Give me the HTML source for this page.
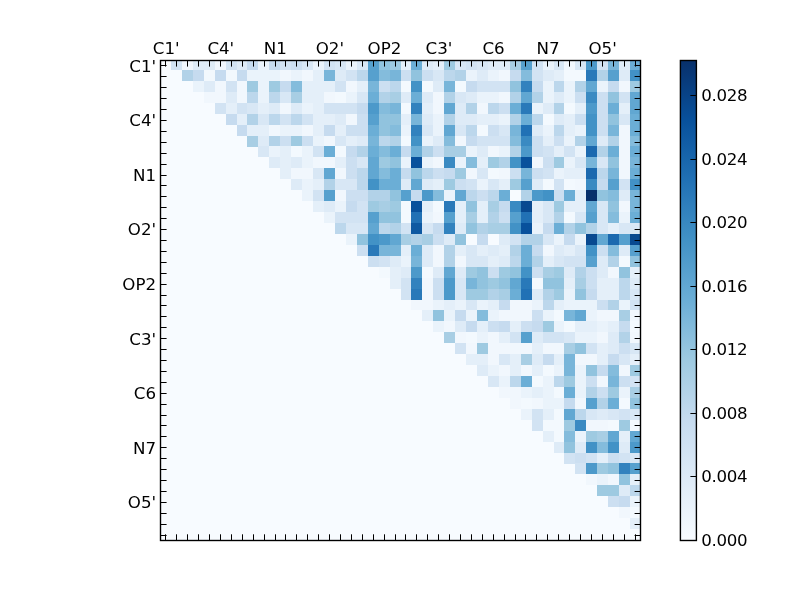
<!DOCTYPE html>
<html lang="en"><head><meta charset="utf-8"><title>Contact map</title>
<style>html,body{margin:0;padding:0;background:#fff;}body{width:800px;height:600px;overflow:hidden;}svg{display:block;}text{font-family:"DejaVu Sans","Liberation Sans",sans-serif;font-size:16.67px;fill:#000;}</style>
</head><body>
<svg width="800" height="600" viewBox="0 0 800 600">
<rect x="0" y="0" width="800" height="600" fill="#ffffff"/>
<defs><clipPath id="ax"><rect x="160" y="60" width="480" height="480"/></clipPath>
<linearGradient id="cb" x1="0" y1="1" x2="0" y2="0">
<stop offset="0" stop-color="#f7fbff"/>
<stop offset="0.125" stop-color="#deebf7"/>
<stop offset="0.25" stop-color="#c6dbef"/>
<stop offset="0.375" stop-color="#9ecae1"/>
<stop offset="0.5" stop-color="#6baed6"/>
<stop offset="0.625" stop-color="#4292c6"/>
<stop offset="0.75" stop-color="#2171b5"/>
<stop offset="0.875" stop-color="#08519c"/>
<stop offset="1" stop-color="#08306b"/>
</linearGradient></defs>
<g clip-path="url(#ax)" shape-rendering="crispEdges">
<rect x="160" y="58" width="480" height="484" fill="#f7fbff"/>
<rect x="170.93" y="59.00" width="10.98" height="10.98" fill="#d2e3f3"/>
<rect x="181.86" y="59.00" width="10.98" height="10.98" fill="#f0f6fd"/>
<rect x="192.80" y="59.00" width="21.91" height="10.98" fill="#deebf7"/>
<rect x="214.66" y="59.00" width="10.98" height="10.98" fill="#f0f6fd"/>
<rect x="225.59" y="59.00" width="10.98" height="10.98" fill="#d2e3f3"/>
<rect x="236.52" y="59.00" width="10.98" height="10.98" fill="#deebf7"/>
<rect x="247.45" y="59.00" width="10.98" height="10.98" fill="#c6dbef"/>
<rect x="258.39" y="59.00" width="10.98" height="10.98" fill="#eaf3fb"/>
<rect x="269.32" y="59.00" width="10.98" height="10.98" fill="#c6dbef"/>
<rect x="280.25" y="59.00" width="10.98" height="10.98" fill="#d2e3f3"/>
<rect x="291.18" y="59.00" width="10.98" height="10.98" fill="#ccdff1"/>
<rect x="302.11" y="59.00" width="10.98" height="10.98" fill="#d8e7f5"/>
<rect x="313.05" y="59.00" width="10.98" height="10.98" fill="#eaf3fb"/>
<rect x="323.98" y="59.00" width="10.98" height="10.98" fill="#d2e3f3"/>
<rect x="334.91" y="59.00" width="10.98" height="10.98" fill="#d8e7f5"/>
<rect x="345.84" y="59.00" width="10.98" height="10.98" fill="#eaf3fb"/>
<rect x="356.77" y="59.00" width="10.98" height="10.98" fill="#d8e7f5"/>
<rect x="367.70" y="59.00" width="10.98" height="10.98" fill="#56a0ce"/>
<rect x="378.64" y="59.00" width="10.98" height="10.98" fill="#91c3de"/>
<rect x="389.57" y="59.00" width="10.98" height="10.98" fill="#9ecae1"/>
<rect x="400.50" y="59.00" width="10.98" height="10.98" fill="#e4eff9"/>
<rect x="411.43" y="59.00" width="10.98" height="10.98" fill="#6baed6"/>
<rect x="422.36" y="59.00" width="10.98" height="10.98" fill="#deebf7"/>
<rect x="433.30" y="59.00" width="10.98" height="10.98" fill="#e4eff9"/>
<rect x="444.23" y="59.00" width="10.98" height="10.98" fill="#9ecae1"/>
<rect x="455.16" y="59.00" width="10.98" height="10.98" fill="#d8e7f5"/>
<rect x="466.09" y="59.00" width="10.98" height="10.98" fill="#d2e3f3"/>
<rect x="477.02" y="59.00" width="10.98" height="10.98" fill="#d8e7f5"/>
<rect x="487.95" y="59.00" width="21.91" height="10.98" fill="#deebf7"/>
<rect x="509.82" y="59.00" width="10.98" height="10.98" fill="#a8cee4"/>
<rect x="520.75" y="59.00" width="10.98" height="10.98" fill="#56a0ce"/>
<rect x="531.68" y="59.00" width="10.98" height="10.98" fill="#d2e3f3"/>
<rect x="542.61" y="59.00" width="10.98" height="10.98" fill="#eaf3fb"/>
<rect x="553.55" y="59.00" width="10.98" height="10.98" fill="#d8e7f5"/>
<rect x="564.48" y="59.00" width="10.98" height="10.98" fill="#f1f7fd"/>
<rect x="575.41" y="59.00" width="10.98" height="10.98" fill="#d8e7f5"/>
<rect x="586.34" y="59.00" width="10.98" height="10.98" fill="#4c99ca"/>
<rect x="597.27" y="59.00" width="10.98" height="10.98" fill="#d2e3f3"/>
<rect x="608.20" y="59.00" width="10.98" height="10.98" fill="#78b5d9"/>
<rect x="619.14" y="59.00" width="10.98" height="10.98" fill="#deebf7"/>
<rect x="630.07" y="59.00" width="10.98" height="10.98" fill="#6baed6"/>
<rect x="181.86" y="69.93" width="10.98" height="10.98" fill="#b2d2e8"/>
<rect x="192.80" y="69.93" width="10.98" height="10.98" fill="#c6dbef"/>
<rect x="203.73" y="69.93" width="10.98" height="10.98" fill="#f2f8fd"/>
<rect x="214.66" y="69.93" width="10.98" height="10.98" fill="#c6dbef"/>
<rect x="225.59" y="69.93" width="10.98" height="10.98" fill="#f2f8fd"/>
<rect x="236.52" y="69.93" width="10.98" height="10.98" fill="#c6dbef"/>
<rect x="247.45" y="69.93" width="32.85" height="10.98" fill="#eaf3fb"/>
<rect x="280.25" y="69.93" width="10.98" height="10.98" fill="#f1f7fd"/>
<rect x="291.18" y="69.93" width="10.98" height="10.98" fill="#eaf3fb"/>
<rect x="302.11" y="69.93" width="10.98" height="10.98" fill="#f1f7fd"/>
<rect x="313.05" y="69.93" width="10.98" height="10.98" fill="#e4eff9"/>
<rect x="323.98" y="69.93" width="10.98" height="10.98" fill="#78b5d9"/>
<rect x="334.91" y="69.93" width="10.98" height="10.98" fill="#deebf7"/>
<rect x="345.84" y="69.93" width="10.98" height="10.98" fill="#d2e3f3"/>
<rect x="356.77" y="69.93" width="10.98" height="10.98" fill="#bcd7ec"/>
<rect x="367.70" y="69.93" width="10.98" height="10.98" fill="#56a0ce"/>
<rect x="378.64" y="69.93" width="10.98" height="10.98" fill="#84bcdc"/>
<rect x="389.57" y="69.93" width="10.98" height="10.98" fill="#78b5d9"/>
<rect x="400.50" y="69.93" width="10.98" height="10.98" fill="#ccdff1"/>
<rect x="411.43" y="69.93" width="10.98" height="10.98" fill="#91c3de"/>
<rect x="422.36" y="69.93" width="10.98" height="10.98" fill="#ccdff1"/>
<rect x="433.30" y="69.93" width="10.98" height="10.98" fill="#d8e7f5"/>
<rect x="444.23" y="69.93" width="10.98" height="10.98" fill="#bcd7ec"/>
<rect x="455.16" y="69.93" width="10.98" height="10.98" fill="#b2d2e8"/>
<rect x="466.09" y="69.93" width="10.98" height="10.98" fill="#eaf3fb"/>
<rect x="477.02" y="69.93" width="10.98" height="10.98" fill="#deebf7"/>
<rect x="487.95" y="69.93" width="10.98" height="10.98" fill="#eaf3fb"/>
<rect x="498.89" y="69.93" width="10.98" height="10.98" fill="#f1f7fd"/>
<rect x="509.82" y="69.93" width="10.98" height="10.98" fill="#c6dbef"/>
<rect x="520.75" y="69.93" width="10.98" height="10.98" fill="#84bcdc"/>
<rect x="531.68" y="69.93" width="10.98" height="10.98" fill="#d2e3f3"/>
<rect x="542.61" y="69.93" width="10.98" height="10.98" fill="#deebf7"/>
<rect x="553.55" y="69.93" width="10.98" height="10.98" fill="#e4eff9"/>
<rect x="564.48" y="69.93" width="21.91" height="10.98" fill="#f3f9fe"/>
<rect x="586.34" y="69.93" width="10.98" height="10.98" fill="#2979b9"/>
<rect x="597.27" y="69.93" width="10.98" height="10.98" fill="#b2d2e8"/>
<rect x="608.20" y="69.93" width="10.98" height="10.98" fill="#56a0ce"/>
<rect x="619.14" y="69.93" width="10.98" height="10.98" fill="#deebf7"/>
<rect x="630.07" y="69.93" width="10.98" height="10.98" fill="#4292c6"/>
<rect x="192.80" y="80.86" width="10.98" height="10.98" fill="#eaf3fb"/>
<rect x="203.73" y="80.86" width="10.98" height="10.98" fill="#deebf7"/>
<rect x="214.66" y="80.86" width="10.98" height="10.98" fill="#f1f7fd"/>
<rect x="225.59" y="80.86" width="10.98" height="10.98" fill="#d2e3f3"/>
<rect x="236.52" y="80.86" width="10.98" height="10.98" fill="#f1f7fd"/>
<rect x="247.45" y="80.86" width="10.98" height="10.98" fill="#9ecae1"/>
<rect x="258.39" y="80.86" width="10.98" height="10.98" fill="#eaf3fb"/>
<rect x="269.32" y="80.86" width="10.98" height="10.98" fill="#9ecae1"/>
<rect x="280.25" y="80.86" width="10.98" height="10.98" fill="#c6dbef"/>
<rect x="291.18" y="80.86" width="10.98" height="10.98" fill="#84bcdc"/>
<rect x="302.11" y="80.86" width="32.85" height="10.98" fill="#e4eff9"/>
<rect x="334.91" y="80.86" width="10.98" height="10.98" fill="#d2e3f3"/>
<rect x="345.84" y="80.86" width="10.98" height="10.98" fill="#f1f7fd"/>
<rect x="356.77" y="80.86" width="10.98" height="10.98" fill="#e4eff9"/>
<rect x="367.70" y="80.86" width="10.98" height="10.98" fill="#78b5d9"/>
<rect x="378.64" y="80.86" width="10.98" height="10.98" fill="#ccdff1"/>
<rect x="389.57" y="80.86" width="10.98" height="10.98" fill="#bcd7ec"/>
<rect x="400.50" y="80.86" width="10.98" height="10.98" fill="#f3f9fe"/>
<rect x="411.43" y="80.86" width="10.98" height="10.98" fill="#4292c6"/>
<rect x="422.36" y="80.86" width="10.98" height="10.98" fill="#f3f9fe"/>
<rect x="433.30" y="80.86" width="10.98" height="10.98" fill="#deebf7"/>
<rect x="444.23" y="80.86" width="10.98" height="10.98" fill="#78b5d9"/>
<rect x="455.16" y="80.86" width="10.98" height="10.98" fill="#f3f9fe"/>
<rect x="466.09" y="80.86" width="10.98" height="10.98" fill="#c6dbef"/>
<rect x="477.02" y="80.86" width="32.85" height="10.98" fill="#d2e3f3"/>
<rect x="509.82" y="80.86" width="10.98" height="10.98" fill="#91c3de"/>
<rect x="520.75" y="80.86" width="10.98" height="10.98" fill="#3282be"/>
<rect x="531.68" y="80.86" width="10.98" height="10.98" fill="#c6dbef"/>
<rect x="542.61" y="80.86" width="10.98" height="10.98" fill="#eaf3fb"/>
<rect x="553.55" y="80.86" width="10.98" height="10.98" fill="#bcd7ec"/>
<rect x="564.48" y="80.86" width="10.98" height="10.98" fill="#eaf3fb"/>
<rect x="575.41" y="80.86" width="10.98" height="10.98" fill="#b2d2e8"/>
<rect x="586.34" y="80.86" width="10.98" height="10.98" fill="#61a7d2"/>
<rect x="597.27" y="80.86" width="10.98" height="10.98" fill="#eaf3fb"/>
<rect x="608.20" y="80.86" width="10.98" height="10.98" fill="#c6dbef"/>
<rect x="619.14" y="80.86" width="10.98" height="10.98" fill="#f1f7fd"/>
<rect x="630.07" y="80.86" width="10.98" height="10.98" fill="#9ecae1"/>
<rect x="203.73" y="91.80" width="21.91" height="10.98" fill="#f1f7fd"/>
<rect x="225.59" y="91.80" width="10.98" height="10.98" fill="#deebf7"/>
<rect x="236.52" y="91.80" width="10.98" height="10.98" fill="#f1f7fd"/>
<rect x="247.45" y="91.80" width="10.98" height="10.98" fill="#bcd7ec"/>
<rect x="258.39" y="91.80" width="10.98" height="10.98" fill="#eaf3fb"/>
<rect x="269.32" y="91.80" width="10.98" height="10.98" fill="#bcd7ec"/>
<rect x="280.25" y="91.80" width="10.98" height="10.98" fill="#d8e7f5"/>
<rect x="291.18" y="91.80" width="10.98" height="10.98" fill="#a8cee4"/>
<rect x="302.11" y="91.80" width="21.91" height="10.98" fill="#e4eff9"/>
<rect x="323.98" y="91.80" width="10.98" height="10.98" fill="#f1f7fd"/>
<rect x="334.91" y="91.80" width="10.98" height="10.98" fill="#f3f9fe"/>
<rect x="345.84" y="91.80" width="10.98" height="10.98" fill="#eaf3fb"/>
<rect x="356.77" y="91.80" width="10.98" height="10.98" fill="#d8e7f5"/>
<rect x="367.70" y="91.80" width="10.98" height="10.98" fill="#6baed6"/>
<rect x="378.64" y="91.80" width="10.98" height="10.98" fill="#b2d2e8"/>
<rect x="389.57" y="91.80" width="10.98" height="10.98" fill="#a8cee4"/>
<rect x="400.50" y="91.80" width="10.98" height="10.98" fill="#deebf7"/>
<rect x="411.43" y="91.80" width="10.98" height="10.98" fill="#6baed6"/>
<rect x="422.36" y="91.80" width="10.98" height="10.98" fill="#deebf7"/>
<rect x="433.30" y="91.80" width="10.98" height="10.98" fill="#f1f7fd"/>
<rect x="444.23" y="91.80" width="10.98" height="10.98" fill="#b2d2e8"/>
<rect x="455.16" y="91.80" width="10.98" height="10.98" fill="#d8e7f5"/>
<rect x="466.09" y="91.80" width="10.98" height="10.98" fill="#deebf7"/>
<rect x="477.02" y="91.80" width="21.91" height="10.98" fill="#eaf3fb"/>
<rect x="498.89" y="91.80" width="10.98" height="10.98" fill="#f1f7fd"/>
<rect x="509.82" y="91.80" width="10.98" height="10.98" fill="#b2d2e8"/>
<rect x="520.75" y="91.80" width="10.98" height="10.98" fill="#61a7d2"/>
<rect x="531.68" y="91.80" width="10.98" height="10.98" fill="#b2d2e8"/>
<rect x="542.61" y="91.80" width="10.98" height="10.98" fill="#eaf3fb"/>
<rect x="553.55" y="91.80" width="10.98" height="10.98" fill="#deebf7"/>
<rect x="564.48" y="91.80" width="10.98" height="10.98" fill="#eaf3fb"/>
<rect x="575.41" y="91.80" width="10.98" height="10.98" fill="#ccdff1"/>
<rect x="586.34" y="91.80" width="10.98" height="10.98" fill="#3a8ac2"/>
<rect x="597.27" y="91.80" width="10.98" height="10.98" fill="#ccdff1"/>
<rect x="608.20" y="91.80" width="10.98" height="10.98" fill="#91c3de"/>
<rect x="619.14" y="91.80" width="10.98" height="10.98" fill="#d2e3f3"/>
<rect x="630.07" y="91.80" width="10.98" height="10.98" fill="#61a7d2"/>
<rect x="214.66" y="102.73" width="10.98" height="10.98" fill="#d2e3f3"/>
<rect x="225.59" y="102.73" width="10.98" height="10.98" fill="#e4eff9"/>
<rect x="236.52" y="102.73" width="10.98" height="10.98" fill="#d2e3f3"/>
<rect x="247.45" y="102.73" width="10.98" height="10.98" fill="#d8e7f5"/>
<rect x="258.39" y="102.73" width="10.98" height="10.98" fill="#e4eff9"/>
<rect x="269.32" y="102.73" width="10.98" height="10.98" fill="#deebf7"/>
<rect x="280.25" y="102.73" width="10.98" height="10.98" fill="#f1f7fd"/>
<rect x="291.18" y="102.73" width="10.98" height="10.98" fill="#deebf7"/>
<rect x="302.11" y="102.73" width="10.98" height="10.98" fill="#eaf3fb"/>
<rect x="313.05" y="102.73" width="10.98" height="10.98" fill="#e4eff9"/>
<rect x="323.98" y="102.73" width="32.85" height="10.98" fill="#d2e3f3"/>
<rect x="356.77" y="102.73" width="10.98" height="10.98" fill="#c6dbef"/>
<rect x="367.70" y="102.73" width="10.98" height="10.98" fill="#4c99ca"/>
<rect x="378.64" y="102.73" width="10.98" height="10.98" fill="#84bcdc"/>
<rect x="389.57" y="102.73" width="10.98" height="10.98" fill="#78b5d9"/>
<rect x="400.50" y="102.73" width="10.98" height="10.98" fill="#f3f9fe"/>
<rect x="411.43" y="102.73" width="10.98" height="10.98" fill="#3282be"/>
<rect x="422.36" y="102.73" width="10.98" height="10.98" fill="#e4eff9"/>
<rect x="433.30" y="102.73" width="10.98" height="10.98" fill="#f1f7fd"/>
<rect x="444.23" y="102.73" width="10.98" height="10.98" fill="#61a7d2"/>
<rect x="455.16" y="102.73" width="10.98" height="10.98" fill="#deebf7"/>
<rect x="466.09" y="102.73" width="10.98" height="10.98" fill="#b2d2e8"/>
<rect x="477.02" y="102.73" width="10.98" height="10.98" fill="#f1f7fd"/>
<rect x="487.95" y="102.73" width="10.98" height="10.98" fill="#bcd7ec"/>
<rect x="498.89" y="102.73" width="10.98" height="10.98" fill="#ccdff1"/>
<rect x="509.82" y="102.73" width="10.98" height="10.98" fill="#6baed6"/>
<rect x="520.75" y="102.73" width="10.98" height="10.98" fill="#2979b9"/>
<rect x="531.68" y="102.73" width="10.98" height="10.98" fill="#eaf3fb"/>
<rect x="542.61" y="102.73" width="10.98" height="10.98" fill="#deebf7"/>
<rect x="553.55" y="102.73" width="10.98" height="10.98" fill="#b2d2e8"/>
<rect x="564.48" y="102.73" width="10.98" height="10.98" fill="#f3f9fe"/>
<rect x="575.41" y="102.73" width="10.98" height="10.98" fill="#e4eff9"/>
<rect x="586.34" y="102.73" width="10.98" height="10.98" fill="#4c99ca"/>
<rect x="597.27" y="102.73" width="10.98" height="10.98" fill="#ccdff1"/>
<rect x="608.20" y="102.73" width="10.98" height="10.98" fill="#6baed6"/>
<rect x="619.14" y="102.73" width="10.98" height="10.98" fill="#e4eff9"/>
<rect x="630.07" y="102.73" width="10.98" height="10.98" fill="#61a7d2"/>
<rect x="225.59" y="113.66" width="10.98" height="10.98" fill="#c6dbef"/>
<rect x="236.52" y="113.66" width="10.98" height="10.98" fill="#e4eff9"/>
<rect x="247.45" y="113.66" width="10.98" height="10.98" fill="#b2d2e8"/>
<rect x="258.39" y="113.66" width="10.98" height="10.98" fill="#d8e7f5"/>
<rect x="269.32" y="113.66" width="10.98" height="10.98" fill="#bcd7ec"/>
<rect x="280.25" y="113.66" width="10.98" height="10.98" fill="#d2e3f3"/>
<rect x="291.18" y="113.66" width="10.98" height="10.98" fill="#bcd7ec"/>
<rect x="302.11" y="113.66" width="10.98" height="10.98" fill="#d2e3f3"/>
<rect x="313.05" y="113.66" width="21.91" height="10.98" fill="#e4eff9"/>
<rect x="334.91" y="113.66" width="10.98" height="10.98" fill="#deebf7"/>
<rect x="345.84" y="113.66" width="10.98" height="10.98" fill="#f1f7fd"/>
<rect x="356.77" y="113.66" width="10.98" height="10.98" fill="#ccdff1"/>
<rect x="367.70" y="113.66" width="10.98" height="10.98" fill="#56a0ce"/>
<rect x="378.64" y="113.66" width="21.91" height="10.98" fill="#91c3de"/>
<rect x="400.50" y="113.66" width="10.98" height="10.98" fill="#e4eff9"/>
<rect x="411.43" y="113.66" width="10.98" height="10.98" fill="#78b5d9"/>
<rect x="422.36" y="113.66" width="10.98" height="10.98" fill="#deebf7"/>
<rect x="433.30" y="113.66" width="10.98" height="10.98" fill="#eaf3fb"/>
<rect x="444.23" y="113.66" width="10.98" height="10.98" fill="#b2d2e8"/>
<rect x="455.16" y="113.66" width="21.91" height="10.98" fill="#deebf7"/>
<rect x="477.02" y="113.66" width="21.91" height="10.98" fill="#e4eff9"/>
<rect x="498.89" y="113.66" width="10.98" height="10.98" fill="#eaf3fb"/>
<rect x="509.82" y="113.66" width="10.98" height="10.98" fill="#b2d2e8"/>
<rect x="520.75" y="113.66" width="10.98" height="10.98" fill="#6baed6"/>
<rect x="531.68" y="113.66" width="10.98" height="10.98" fill="#bcd7ec"/>
<rect x="542.61" y="113.66" width="10.98" height="10.98" fill="#f3f9fe"/>
<rect x="553.55" y="113.66" width="10.98" height="10.98" fill="#deebf7"/>
<rect x="564.48" y="113.66" width="10.98" height="10.98" fill="#e4eff9"/>
<rect x="575.41" y="113.66" width="10.98" height="10.98" fill="#ccdff1"/>
<rect x="586.34" y="113.66" width="10.98" height="10.98" fill="#4292c6"/>
<rect x="597.27" y="113.66" width="10.98" height="10.98" fill="#ccdff1"/>
<rect x="608.20" y="113.66" width="10.98" height="10.98" fill="#91c3de"/>
<rect x="619.14" y="113.66" width="10.98" height="10.98" fill="#d8e7f5"/>
<rect x="630.07" y="113.66" width="10.98" height="10.98" fill="#6baed6"/>
<rect x="236.52" y="124.59" width="10.98" height="10.98" fill="#c6dbef"/>
<rect x="247.45" y="124.59" width="21.91" height="10.98" fill="#e4eff9"/>
<rect x="269.32" y="124.59" width="10.98" height="10.98" fill="#f1f7fd"/>
<rect x="280.25" y="124.59" width="21.91" height="10.98" fill="#eaf3fb"/>
<rect x="302.11" y="124.59" width="10.98" height="10.98" fill="#f1f7fd"/>
<rect x="313.05" y="124.59" width="10.98" height="10.98" fill="#e4eff9"/>
<rect x="323.98" y="124.59" width="10.98" height="10.98" fill="#c6dbef"/>
<rect x="334.91" y="124.59" width="10.98" height="10.98" fill="#e4eff9"/>
<rect x="345.84" y="124.59" width="21.91" height="10.98" fill="#ccdff1"/>
<rect x="367.70" y="124.59" width="10.98" height="10.98" fill="#6baed6"/>
<rect x="378.64" y="124.59" width="10.98" height="10.98" fill="#91c3de"/>
<rect x="389.57" y="124.59" width="10.98" height="10.98" fill="#84bcdc"/>
<rect x="400.50" y="124.59" width="10.98" height="10.98" fill="#eaf3fb"/>
<rect x="411.43" y="124.59" width="10.98" height="10.98" fill="#3282be"/>
<rect x="422.36" y="124.59" width="10.98" height="10.98" fill="#d8e7f5"/>
<rect x="433.30" y="124.59" width="10.98" height="10.98" fill="#eaf3fb"/>
<rect x="444.23" y="124.59" width="10.98" height="10.98" fill="#61a7d2"/>
<rect x="455.16" y="124.59" width="10.98" height="10.98" fill="#d8e7f5"/>
<rect x="466.09" y="124.59" width="10.98" height="10.98" fill="#bcd7ec"/>
<rect x="477.02" y="124.59" width="10.98" height="10.98" fill="#f3f9fe"/>
<rect x="487.95" y="124.59" width="10.98" height="10.98" fill="#ccdff1"/>
<rect x="498.89" y="124.59" width="10.98" height="10.98" fill="#d8e7f5"/>
<rect x="509.82" y="124.59" width="10.98" height="10.98" fill="#78b5d9"/>
<rect x="520.75" y="124.59" width="10.98" height="10.98" fill="#2171b5"/>
<rect x="531.68" y="124.59" width="10.98" height="10.98" fill="#deebf7"/>
<rect x="542.61" y="124.59" width="10.98" height="10.98" fill="#eaf3fb"/>
<rect x="553.55" y="124.59" width="10.98" height="10.98" fill="#bcd7ec"/>
<rect x="564.48" y="124.59" width="10.98" height="10.98" fill="#e4eff9"/>
<rect x="575.41" y="124.59" width="10.98" height="10.98" fill="#eaf3fb"/>
<rect x="586.34" y="124.59" width="10.98" height="10.98" fill="#4292c6"/>
<rect x="597.27" y="124.59" width="10.98" height="10.98" fill="#ccdff1"/>
<rect x="608.20" y="124.59" width="10.98" height="10.98" fill="#78b5d9"/>
<rect x="619.14" y="124.59" width="10.98" height="10.98" fill="#f1f7fd"/>
<rect x="630.07" y="124.59" width="10.98" height="10.98" fill="#6baed6"/>
<rect x="247.45" y="135.52" width="10.98" height="10.98" fill="#a8cee4"/>
<rect x="258.39" y="135.52" width="10.98" height="10.98" fill="#deebf7"/>
<rect x="269.32" y="135.52" width="10.98" height="10.98" fill="#b2d2e8"/>
<rect x="280.25" y="135.52" width="10.98" height="10.98" fill="#ccdff1"/>
<rect x="291.18" y="135.52" width="10.98" height="10.98" fill="#9ecae1"/>
<rect x="302.11" y="135.52" width="10.98" height="10.98" fill="#ccdff1"/>
<rect x="313.05" y="135.52" width="10.98" height="10.98" fill="#eaf3fb"/>
<rect x="323.98" y="135.52" width="10.98" height="10.98" fill="#f1f7fd"/>
<rect x="334.91" y="135.52" width="10.98" height="10.98" fill="#d8e7f5"/>
<rect x="345.84" y="135.52" width="10.98" height="10.98" fill="#e4eff9"/>
<rect x="356.77" y="135.52" width="10.98" height="10.98" fill="#deebf7"/>
<rect x="367.70" y="135.52" width="10.98" height="10.98" fill="#78b5d9"/>
<rect x="378.64" y="135.52" width="10.98" height="10.98" fill="#bcd7ec"/>
<rect x="389.57" y="135.52" width="10.98" height="10.98" fill="#b2d2e8"/>
<rect x="400.50" y="135.52" width="10.98" height="10.98" fill="#f3f9fe"/>
<rect x="411.43" y="135.52" width="10.98" height="10.98" fill="#4292c6"/>
<rect x="422.36" y="135.52" width="10.98" height="10.98" fill="#eaf3fb"/>
<rect x="433.30" y="135.52" width="10.98" height="10.98" fill="#deebf7"/>
<rect x="444.23" y="135.52" width="10.98" height="10.98" fill="#84bcdc"/>
<rect x="455.16" y="135.52" width="10.98" height="10.98" fill="#f1f7fd"/>
<rect x="466.09" y="135.52" width="10.98" height="10.98" fill="#c6dbef"/>
<rect x="477.02" y="135.52" width="32.85" height="10.98" fill="#d2e3f3"/>
<rect x="509.82" y="135.52" width="10.98" height="10.98" fill="#84bcdc"/>
<rect x="520.75" y="135.52" width="10.98" height="10.98" fill="#3a8ac2"/>
<rect x="531.68" y="135.52" width="10.98" height="10.98" fill="#ccdff1"/>
<rect x="542.61" y="135.52" width="10.98" height="10.98" fill="#e4eff9"/>
<rect x="553.55" y="135.52" width="10.98" height="10.98" fill="#ccdff1"/>
<rect x="564.48" y="135.52" width="10.98" height="10.98" fill="#eaf3fb"/>
<rect x="575.41" y="135.52" width="10.98" height="10.98" fill="#b2d2e8"/>
<rect x="586.34" y="135.52" width="10.98" height="10.98" fill="#61a7d2"/>
<rect x="597.27" y="135.52" width="10.98" height="10.98" fill="#deebf7"/>
<rect x="608.20" y="135.52" width="10.98" height="10.98" fill="#b2d2e8"/>
<rect x="619.14" y="135.52" width="10.98" height="10.98" fill="#f1f7fd"/>
<rect x="630.07" y="135.52" width="10.98" height="10.98" fill="#84bcdc"/>
<rect x="258.39" y="146.45" width="10.98" height="10.98" fill="#d8e7f5"/>
<rect x="269.32" y="146.45" width="10.98" height="10.98" fill="#eaf3fb"/>
<rect x="280.25" y="146.45" width="10.98" height="10.98" fill="#e4eff9"/>
<rect x="291.18" y="146.45" width="10.98" height="10.98" fill="#f3f9fe"/>
<rect x="302.11" y="146.45" width="10.98" height="10.98" fill="#eaf3fb"/>
<rect x="313.05" y="146.45" width="10.98" height="10.98" fill="#d2e3f3"/>
<rect x="323.98" y="146.45" width="10.98" height="10.98" fill="#6baed6"/>
<rect x="334.91" y="146.45" width="10.98" height="10.98" fill="#f3f9fe"/>
<rect x="345.84" y="146.45" width="10.98" height="10.98" fill="#c6dbef"/>
<rect x="356.77" y="146.45" width="10.98" height="10.98" fill="#b2d2e8"/>
<rect x="367.70" y="146.45" width="10.98" height="10.98" fill="#6baed6"/>
<rect x="378.64" y="146.45" width="10.98" height="10.98" fill="#84bcdc"/>
<rect x="389.57" y="146.45" width="10.98" height="10.98" fill="#6baed6"/>
<rect x="400.50" y="146.45" width="10.98" height="10.98" fill="#c6dbef"/>
<rect x="411.43" y="146.45" width="10.98" height="10.98" fill="#6baed6"/>
<rect x="422.36" y="146.45" width="10.98" height="10.98" fill="#b2d2e8"/>
<rect x="433.30" y="146.45" width="10.98" height="10.98" fill="#ccdff1"/>
<rect x="444.23" y="146.45" width="21.91" height="10.98" fill="#a8cee4"/>
<rect x="466.09" y="146.45" width="10.98" height="10.98" fill="#eaf3fb"/>
<rect x="477.02" y="146.45" width="10.98" height="10.98" fill="#deebf7"/>
<rect x="487.95" y="146.45" width="10.98" height="10.98" fill="#f1f7fd"/>
<rect x="498.89" y="146.45" width="10.98" height="10.98" fill="#eaf3fb"/>
<rect x="509.82" y="146.45" width="10.98" height="10.98" fill="#b2d2e8"/>
<rect x="520.75" y="146.45" width="10.98" height="10.98" fill="#4c99ca"/>
<rect x="531.68" y="146.45" width="10.98" height="10.98" fill="#ccdff1"/>
<rect x="542.61" y="146.45" width="10.98" height="10.98" fill="#d2e3f3"/>
<rect x="553.55" y="146.45" width="10.98" height="10.98" fill="#e4eff9"/>
<rect x="564.48" y="146.45" width="10.98" height="10.98" fill="#d2e3f3"/>
<rect x="575.41" y="146.45" width="10.98" height="10.98" fill="#eaf3fb"/>
<rect x="586.34" y="146.45" width="10.98" height="10.98" fill="#1b69af"/>
<rect x="597.27" y="146.45" width="10.98" height="10.98" fill="#b2d2e8"/>
<rect x="608.20" y="146.45" width="10.98" height="10.98" fill="#6baed6"/>
<rect x="619.14" y="146.45" width="10.98" height="10.98" fill="#f1f7fd"/>
<rect x="630.07" y="146.45" width="10.98" height="10.98" fill="#6baed6"/>
<rect x="269.32" y="157.39" width="10.98" height="10.98" fill="#deebf7"/>
<rect x="280.25" y="157.39" width="10.98" height="10.98" fill="#e4eff9"/>
<rect x="291.18" y="157.39" width="10.98" height="10.98" fill="#deebf7"/>
<rect x="302.11" y="157.39" width="10.98" height="10.98" fill="#eaf3fb"/>
<rect x="313.05" y="157.39" width="21.91" height="10.98" fill="#f1f7fd"/>
<rect x="334.91" y="157.39" width="10.98" height="10.98" fill="#e4eff9"/>
<rect x="345.84" y="157.39" width="10.98" height="10.98" fill="#ccdff1"/>
<rect x="356.77" y="157.39" width="10.98" height="10.98" fill="#d8e7f5"/>
<rect x="367.70" y="157.39" width="10.98" height="10.98" fill="#61a7d2"/>
<rect x="378.64" y="157.39" width="10.98" height="10.98" fill="#9ecae1"/>
<rect x="389.57" y="157.39" width="10.98" height="10.98" fill="#91c3de"/>
<rect x="400.50" y="157.39" width="10.98" height="10.98" fill="#eaf3fb"/>
<rect x="411.43" y="157.39" width="10.98" height="10.98" fill="#08519c"/>
<rect x="422.36" y="157.39" width="10.98" height="10.98" fill="#eaf3fb"/>
<rect x="433.30" y="157.39" width="10.98" height="10.98" fill="#f1f7fd"/>
<rect x="444.23" y="157.39" width="10.98" height="10.98" fill="#3a8ac2"/>
<rect x="455.16" y="157.39" width="10.98" height="10.98" fill="#eaf3fb"/>
<rect x="466.09" y="157.39" width="10.98" height="10.98" fill="#84bcdc"/>
<rect x="477.02" y="157.39" width="10.98" height="10.98" fill="#e4eff9"/>
<rect x="487.95" y="157.39" width="10.98" height="10.98" fill="#9ecae1"/>
<rect x="498.89" y="157.39" width="10.98" height="10.98" fill="#b2d2e8"/>
<rect x="509.82" y="157.39" width="10.98" height="10.98" fill="#4292c6"/>
<rect x="520.75" y="157.39" width="10.98" height="10.98" fill="#08519c"/>
<rect x="531.68" y="157.39" width="10.98" height="10.98" fill="#f1f7fd"/>
<rect x="542.61" y="157.39" width="10.98" height="10.98" fill="#ccdff1"/>
<rect x="553.55" y="157.39" width="10.98" height="10.98" fill="#9ecae1"/>
<rect x="564.48" y="157.39" width="10.98" height="10.98" fill="#eaf3fb"/>
<rect x="575.41" y="157.39" width="10.98" height="10.98" fill="#d8e7f5"/>
<rect x="586.34" y="157.39" width="10.98" height="10.98" fill="#78b5d9"/>
<rect x="597.27" y="157.39" width="10.98" height="10.98" fill="#d8e7f5"/>
<rect x="608.20" y="157.39" width="10.98" height="10.98" fill="#91c3de"/>
<rect x="619.14" y="157.39" width="10.98" height="10.98" fill="#f1f7fd"/>
<rect x="630.07" y="157.39" width="10.98" height="10.98" fill="#78b5d9"/>
<rect x="280.25" y="168.32" width="10.98" height="10.98" fill="#e4eff9"/>
<rect x="291.18" y="168.32" width="21.91" height="10.98" fill="#f1f7fd"/>
<rect x="313.05" y="168.32" width="10.98" height="10.98" fill="#d8e7f5"/>
<rect x="323.98" y="168.32" width="10.98" height="10.98" fill="#61a7d2"/>
<rect x="334.91" y="168.32" width="10.98" height="10.98" fill="#f1f7fd"/>
<rect x="345.84" y="168.32" width="10.98" height="10.98" fill="#ccdff1"/>
<rect x="356.77" y="168.32" width="10.98" height="10.98" fill="#bcd7ec"/>
<rect x="367.70" y="168.32" width="10.98" height="10.98" fill="#61a7d2"/>
<rect x="378.64" y="168.32" width="10.98" height="10.98" fill="#84bcdc"/>
<rect x="389.57" y="168.32" width="10.98" height="10.98" fill="#6baed6"/>
<rect x="400.50" y="168.32" width="10.98" height="10.98" fill="#c6dbef"/>
<rect x="411.43" y="168.32" width="10.98" height="10.98" fill="#91c3de"/>
<rect x="422.36" y="168.32" width="10.98" height="10.98" fill="#bcd7ec"/>
<rect x="433.30" y="168.32" width="10.98" height="10.98" fill="#ccdff1"/>
<rect x="444.23" y="168.32" width="10.98" height="10.98" fill="#c6dbef"/>
<rect x="455.16" y="168.32" width="10.98" height="10.98" fill="#9ecae1"/>
<rect x="466.09" y="168.32" width="10.98" height="10.98" fill="#f1f7fd"/>
<rect x="477.02" y="168.32" width="10.98" height="10.98" fill="#d8e7f5"/>
<rect x="487.95" y="168.32" width="10.98" height="10.98" fill="#f3f9fe"/>
<rect x="498.89" y="168.32" width="10.98" height="10.98" fill="#f1f7fd"/>
<rect x="509.82" y="168.32" width="10.98" height="10.98" fill="#ccdff1"/>
<rect x="520.75" y="168.32" width="10.98" height="10.98" fill="#78b5d9"/>
<rect x="531.68" y="168.32" width="10.98" height="10.98" fill="#ccdff1"/>
<rect x="542.61" y="168.32" width="10.98" height="10.98" fill="#d2e3f3"/>
<rect x="553.55" y="168.32" width="10.98" height="10.98" fill="#eaf3fb"/>
<rect x="564.48" y="168.32" width="21.91" height="10.98" fill="#e4eff9"/>
<rect x="586.34" y="168.32" width="10.98" height="10.98" fill="#1b69af"/>
<rect x="597.27" y="168.32" width="10.98" height="10.98" fill="#bcd7ec"/>
<rect x="608.20" y="168.32" width="10.98" height="10.98" fill="#78b5d9"/>
<rect x="619.14" y="168.32" width="10.98" height="10.98" fill="#f1f7fd"/>
<rect x="630.07" y="168.32" width="10.98" height="10.98" fill="#6baed6"/>
<rect x="291.18" y="179.25" width="10.98" height="10.98" fill="#deebf7"/>
<rect x="302.11" y="179.25" width="10.98" height="10.98" fill="#eaf3fb"/>
<rect x="313.05" y="179.25" width="10.98" height="10.98" fill="#e4eff9"/>
<rect x="323.98" y="179.25" width="10.98" height="10.98" fill="#b2d2e8"/>
<rect x="334.91" y="179.25" width="21.91" height="10.98" fill="#d8e7f5"/>
<rect x="356.77" y="179.25" width="10.98" height="10.98" fill="#bcd7ec"/>
<rect x="367.70" y="179.25" width="10.98" height="10.98" fill="#4292c6"/>
<rect x="378.64" y="179.25" width="21.91" height="10.98" fill="#6baed6"/>
<rect x="400.50" y="179.25" width="10.98" height="10.98" fill="#deebf7"/>
<rect x="411.43" y="179.25" width="10.98" height="10.98" fill="#61a7d2"/>
<rect x="422.36" y="179.25" width="10.98" height="10.98" fill="#deebf7"/>
<rect x="433.30" y="179.25" width="10.98" height="10.98" fill="#e4eff9"/>
<rect x="444.23" y="179.25" width="10.98" height="10.98" fill="#9ecae1"/>
<rect x="455.16" y="179.25" width="10.98" height="10.98" fill="#ccdff1"/>
<rect x="466.09" y="179.25" width="10.98" height="10.98" fill="#d2e3f3"/>
<rect x="477.02" y="179.25" width="10.98" height="10.98" fill="#eaf3fb"/>
<rect x="487.95" y="179.25" width="10.98" height="10.98" fill="#d8e7f5"/>
<rect x="498.89" y="179.25" width="10.98" height="10.98" fill="#e4eff9"/>
<rect x="509.82" y="179.25" width="10.98" height="10.98" fill="#9ecae1"/>
<rect x="520.75" y="179.25" width="10.98" height="10.98" fill="#56a0ce"/>
<rect x="531.68" y="179.25" width="10.98" height="10.98" fill="#deebf7"/>
<rect x="542.61" y="179.25" width="10.98" height="10.98" fill="#f3f9fe"/>
<rect x="553.55" y="179.25" width="10.98" height="10.98" fill="#d2e3f3"/>
<rect x="564.48" y="179.25" width="10.98" height="10.98" fill="#f3f9fe"/>
<rect x="575.41" y="179.25" width="10.98" height="10.98" fill="#f1f7fd"/>
<rect x="586.34" y="179.25" width="10.98" height="10.98" fill="#3a8ac2"/>
<rect x="597.27" y="179.25" width="10.98" height="10.98" fill="#c6dbef"/>
<rect x="608.20" y="179.25" width="10.98" height="10.98" fill="#56a0ce"/>
<rect x="619.14" y="179.25" width="10.98" height="10.98" fill="#d2e3f3"/>
<rect x="630.07" y="179.25" width="10.98" height="10.98" fill="#4292c6"/>
<rect x="302.11" y="190.18" width="10.98" height="10.98" fill="#eaf3fb"/>
<rect x="313.05" y="190.18" width="10.98" height="10.98" fill="#d2e3f3"/>
<rect x="323.98" y="190.18" width="10.98" height="10.98" fill="#56a0ce"/>
<rect x="334.91" y="190.18" width="10.98" height="10.98" fill="#f1f7fd"/>
<rect x="345.84" y="190.18" width="21.91" height="10.98" fill="#ccdff1"/>
<rect x="367.70" y="190.18" width="21.91" height="10.98" fill="#b2d2e8"/>
<rect x="389.57" y="190.18" width="10.98" height="10.98" fill="#91c3de"/>
<rect x="400.50" y="190.18" width="10.98" height="10.98" fill="#56a0ce"/>
<rect x="411.43" y="190.18" width="10.98" height="10.98" fill="#c6dbef"/>
<rect x="422.36" y="190.18" width="10.98" height="10.98" fill="#4c99ca"/>
<rect x="433.30" y="190.18" width="10.98" height="10.98" fill="#84bcdc"/>
<rect x="444.23" y="190.18" width="10.98" height="10.98" fill="#eaf3fb"/>
<rect x="455.16" y="190.18" width="10.98" height="10.98" fill="#61a7d2"/>
<rect x="466.09" y="190.18" width="10.98" height="10.98" fill="#bcd7ec"/>
<rect x="477.02" y="190.18" width="10.98" height="10.98" fill="#ccdff1"/>
<rect x="487.95" y="190.18" width="10.98" height="10.98" fill="#bcd7ec"/>
<rect x="498.89" y="190.18" width="10.98" height="10.98" fill="#6baed6"/>
<rect x="520.75" y="190.18" width="10.98" height="10.98" fill="#b2d2e8"/>
<rect x="531.68" y="190.18" width="10.98" height="10.98" fill="#4c99ca"/>
<rect x="542.61" y="190.18" width="10.98" height="10.98" fill="#4292c6"/>
<rect x="553.55" y="190.18" width="10.98" height="10.98" fill="#ccdff1"/>
<rect x="564.48" y="190.18" width="10.98" height="10.98" fill="#6baed6"/>
<rect x="575.41" y="190.18" width="10.98" height="10.98" fill="#e4eff9"/>
<rect x="586.34" y="190.18" width="10.98" height="10.98" fill="#08306b"/>
<rect x="597.27" y="190.18" width="10.98" height="10.98" fill="#91c3de"/>
<rect x="608.20" y="190.18" width="10.98" height="10.98" fill="#84bcdc"/>
<rect x="619.14" y="190.18" width="10.98" height="10.98" fill="#deebf7"/>
<rect x="630.07" y="190.18" width="10.98" height="10.98" fill="#78b5d9"/>
<rect x="313.05" y="201.11" width="10.98" height="10.98" fill="#e4eff9"/>
<rect x="323.98" y="201.11" width="10.98" height="10.98" fill="#deebf7"/>
<rect x="334.91" y="201.11" width="10.98" height="10.98" fill="#eaf3fb"/>
<rect x="345.84" y="201.11" width="10.98" height="10.98" fill="#c6dbef"/>
<rect x="356.77" y="201.11" width="10.98" height="10.98" fill="#d2e3f3"/>
<rect x="367.70" y="201.11" width="10.98" height="10.98" fill="#9ecae1"/>
<rect x="378.64" y="201.11" width="10.98" height="10.98" fill="#a8cee4"/>
<rect x="389.57" y="201.11" width="10.98" height="10.98" fill="#9ecae1"/>
<rect x="400.50" y="201.11" width="10.98" height="10.98" fill="#f3f9fe"/>
<rect x="411.43" y="201.11" width="10.98" height="10.98" fill="#08519c"/>
<rect x="422.36" y="201.11" width="10.98" height="10.98" fill="#e4eff9"/>
<rect x="433.30" y="201.11" width="10.98" height="10.98" fill="#f3f9fe"/>
<rect x="444.23" y="201.11" width="10.98" height="10.98" fill="#2979b9"/>
<rect x="455.16" y="201.11" width="10.98" height="10.98" fill="#e4eff9"/>
<rect x="466.09" y="201.11" width="10.98" height="10.98" fill="#91c3de"/>
<rect x="477.02" y="201.11" width="10.98" height="10.98" fill="#e4eff9"/>
<rect x="487.95" y="201.11" width="10.98" height="10.98" fill="#a8cee4"/>
<rect x="498.89" y="201.11" width="10.98" height="10.98" fill="#c6dbef"/>
<rect x="509.82" y="201.11" width="10.98" height="10.98" fill="#3a8ac2"/>
<rect x="520.75" y="201.11" width="10.98" height="10.98" fill="#084990"/>
<rect x="531.68" y="201.11" width="10.98" height="10.98" fill="#e4eff9"/>
<rect x="542.61" y="201.11" width="10.98" height="10.98" fill="#d8e7f5"/>
<rect x="553.55" y="201.11" width="10.98" height="10.98" fill="#9ecae1"/>
<rect x="564.48" y="201.11" width="21.91" height="10.98" fill="#e4eff9"/>
<rect x="586.34" y="201.11" width="10.98" height="10.98" fill="#61a7d2"/>
<rect x="597.27" y="201.11" width="10.98" height="10.98" fill="#d8e7f5"/>
<rect x="608.20" y="201.11" width="10.98" height="10.98" fill="#91c3de"/>
<rect x="619.14" y="201.11" width="10.98" height="10.98" fill="#f1f7fd"/>
<rect x="630.07" y="201.11" width="10.98" height="10.98" fill="#78b5d9"/>
<rect x="323.98" y="212.05" width="10.98" height="10.98" fill="#eaf3fb"/>
<rect x="334.91" y="212.05" width="32.85" height="10.98" fill="#d2e3f3"/>
<rect x="367.70" y="212.05" width="10.98" height="10.98" fill="#56a0ce"/>
<rect x="378.64" y="212.05" width="21.91" height="10.98" fill="#91c3de"/>
<rect x="400.50" y="212.05" width="10.98" height="10.98" fill="#f3f9fe"/>
<rect x="411.43" y="212.05" width="10.98" height="10.98" fill="#2171b5"/>
<rect x="422.36" y="212.05" width="10.98" height="10.98" fill="#eaf3fb"/>
<rect x="433.30" y="212.05" width="10.98" height="10.98" fill="#f1f7fd"/>
<rect x="444.23" y="212.05" width="10.98" height="10.98" fill="#56a0ce"/>
<rect x="455.16" y="212.05" width="10.98" height="10.98" fill="#e4eff9"/>
<rect x="466.09" y="212.05" width="10.98" height="10.98" fill="#a8cee4"/>
<rect x="477.02" y="212.05" width="10.98" height="10.98" fill="#e4eff9"/>
<rect x="487.95" y="212.05" width="10.98" height="10.98" fill="#b2d2e8"/>
<rect x="498.89" y="212.05" width="10.98" height="10.98" fill="#ccdff1"/>
<rect x="509.82" y="212.05" width="10.98" height="10.98" fill="#56a0ce"/>
<rect x="520.75" y="212.05" width="10.98" height="10.98" fill="#2171b5"/>
<rect x="531.68" y="212.05" width="10.98" height="10.98" fill="#e4eff9"/>
<rect x="542.61" y="212.05" width="10.98" height="10.98" fill="#d8e7f5"/>
<rect x="553.55" y="212.05" width="10.98" height="10.98" fill="#b2d2e8"/>
<rect x="564.48" y="212.05" width="10.98" height="10.98" fill="#f3f9fe"/>
<rect x="575.41" y="212.05" width="10.98" height="10.98" fill="#d8e7f5"/>
<rect x="586.34" y="212.05" width="10.98" height="10.98" fill="#56a0ce"/>
<rect x="597.27" y="212.05" width="10.98" height="10.98" fill="#d8e7f5"/>
<rect x="608.20" y="212.05" width="10.98" height="10.98" fill="#84bcdc"/>
<rect x="619.14" y="212.05" width="10.98" height="10.98" fill="#eaf3fb"/>
<rect x="630.07" y="212.05" width="10.98" height="10.98" fill="#6baed6"/>
<rect x="334.91" y="222.98" width="10.98" height="10.98" fill="#bcd7ec"/>
<rect x="345.84" y="222.98" width="21.91" height="10.98" fill="#d8e7f5"/>
<rect x="367.70" y="222.98" width="10.98" height="10.98" fill="#61a7d2"/>
<rect x="378.64" y="222.98" width="10.98" height="10.98" fill="#bcd7ec"/>
<rect x="389.57" y="222.98" width="10.98" height="10.98" fill="#b2d2e8"/>
<rect x="400.50" y="222.98" width="10.98" height="10.98" fill="#d2e3f3"/>
<rect x="411.43" y="222.98" width="10.98" height="10.98" fill="#0e59a2"/>
<rect x="422.36" y="222.98" width="10.98" height="10.98" fill="#d8e7f5"/>
<rect x="433.30" y="222.98" width="10.98" height="10.98" fill="#c6dbef"/>
<rect x="444.23" y="222.98" width="10.98" height="10.98" fill="#3282be"/>
<rect x="455.16" y="222.98" width="10.98" height="10.98" fill="#deebf7"/>
<rect x="466.09" y="222.98" width="10.98" height="10.98" fill="#91c3de"/>
<rect x="477.02" y="222.98" width="10.98" height="10.98" fill="#b2d2e8"/>
<rect x="487.95" y="222.98" width="21.91" height="10.98" fill="#a8cee4"/>
<rect x="509.82" y="222.98" width="10.98" height="10.98" fill="#4292c6"/>
<rect x="520.75" y="222.98" width="10.98" height="10.98" fill="#08519c"/>
<rect x="531.68" y="222.98" width="10.98" height="10.98" fill="#eaf3fb"/>
<rect x="542.61" y="222.98" width="10.98" height="10.98" fill="#c6dbef"/>
<rect x="553.55" y="222.98" width="10.98" height="10.98" fill="#6baed6"/>
<rect x="564.48" y="222.98" width="10.98" height="10.98" fill="#b2d2e8"/>
<rect x="575.41" y="222.98" width="10.98" height="10.98" fill="#91c3de"/>
<rect x="586.34" y="222.98" width="10.98" height="10.98" fill="#b2d2e8"/>
<rect x="597.27" y="222.98" width="10.98" height="10.98" fill="#d8e7f5"/>
<rect x="608.20" y="222.98" width="10.98" height="10.98" fill="#e4eff9"/>
<rect x="619.14" y="222.98" width="21.91" height="10.98" fill="#d8e7f5"/>
<rect x="345.84" y="233.91" width="10.98" height="10.98" fill="#eaf3fb"/>
<rect x="356.77" y="233.91" width="10.98" height="10.98" fill="#91c3de"/>
<rect x="367.70" y="233.91" width="10.98" height="10.98" fill="#4292c6"/>
<rect x="378.64" y="233.91" width="10.98" height="10.98" fill="#4c99ca"/>
<rect x="389.57" y="233.91" width="10.98" height="10.98" fill="#61a7d2"/>
<rect x="400.50" y="233.91" width="10.98" height="10.98" fill="#a8cee4"/>
<rect x="411.43" y="233.91" width="10.98" height="10.98" fill="#b2d2e8"/>
<rect x="422.36" y="233.91" width="10.98" height="10.98" fill="#a8cee4"/>
<rect x="433.30" y="233.91" width="10.98" height="10.98" fill="#ccdff1"/>
<rect x="444.23" y="233.91" width="10.98" height="10.98" fill="#deebf7"/>
<rect x="455.16" y="233.91" width="10.98" height="10.98" fill="#91c3de"/>
<rect x="477.02" y="233.91" width="10.98" height="10.98" fill="#c6dbef"/>
<rect x="498.89" y="233.91" width="10.98" height="10.98" fill="#deebf7"/>
<rect x="509.82" y="233.91" width="10.98" height="10.98" fill="#d2e3f3"/>
<rect x="520.75" y="233.91" width="21.91" height="10.98" fill="#b2d2e8"/>
<rect x="542.61" y="233.91" width="10.98" height="10.98" fill="#d8e7f5"/>
<rect x="553.55" y="233.91" width="10.98" height="10.98" fill="#eaf3fb"/>
<rect x="564.48" y="233.91" width="10.98" height="10.98" fill="#c6dbef"/>
<rect x="575.41" y="233.91" width="10.98" height="10.98" fill="#eaf3fb"/>
<rect x="586.34" y="233.91" width="10.98" height="10.98" fill="#084990"/>
<rect x="597.27" y="233.91" width="10.98" height="10.98" fill="#61a7d2"/>
<rect x="608.20" y="233.91" width="10.98" height="10.98" fill="#1b69af"/>
<rect x="619.14" y="233.91" width="10.98" height="10.98" fill="#56a0ce"/>
<rect x="630.07" y="233.91" width="10.98" height="10.98" fill="#084990"/>
<rect x="356.77" y="244.84" width="10.98" height="10.98" fill="#ccdff1"/>
<rect x="367.70" y="244.84" width="10.98" height="10.98" fill="#2979b9"/>
<rect x="378.64" y="244.84" width="21.91" height="10.98" fill="#78b5d9"/>
<rect x="400.50" y="244.84" width="10.98" height="10.98" fill="#e4eff9"/>
<rect x="411.43" y="244.84" width="10.98" height="10.98" fill="#6baed6"/>
<rect x="422.36" y="244.84" width="10.98" height="10.98" fill="#deebf7"/>
<rect x="433.30" y="244.84" width="10.98" height="10.98" fill="#f1f7fd"/>
<rect x="444.23" y="244.84" width="10.98" height="10.98" fill="#b2d2e8"/>
<rect x="455.16" y="244.84" width="10.98" height="10.98" fill="#e4eff9"/>
<rect x="466.09" y="244.84" width="10.98" height="10.98" fill="#d8e7f5"/>
<rect x="477.02" y="244.84" width="10.98" height="10.98" fill="#e4eff9"/>
<rect x="487.95" y="244.84" width="10.98" height="10.98" fill="#deebf7"/>
<rect x="498.89" y="244.84" width="10.98" height="10.98" fill="#e4eff9"/>
<rect x="509.82" y="244.84" width="10.98" height="10.98" fill="#b2d2e8"/>
<rect x="520.75" y="244.84" width="10.98" height="10.98" fill="#6baed6"/>
<rect x="531.68" y="244.84" width="10.98" height="10.98" fill="#c6dbef"/>
<rect x="542.61" y="244.84" width="10.98" height="10.98" fill="#f1f7fd"/>
<rect x="553.55" y="244.84" width="10.98" height="10.98" fill="#deebf7"/>
<rect x="564.48" y="244.84" width="10.98" height="10.98" fill="#e4eff9"/>
<rect x="575.41" y="244.84" width="10.98" height="10.98" fill="#d8e7f5"/>
<rect x="586.34" y="244.84" width="10.98" height="10.98" fill="#4292c6"/>
<rect x="597.27" y="244.84" width="10.98" height="10.98" fill="#ccdff1"/>
<rect x="608.20" y="244.84" width="10.98" height="10.98" fill="#84bcdc"/>
<rect x="619.14" y="244.84" width="10.98" height="10.98" fill="#deebf7"/>
<rect x="630.07" y="244.84" width="10.98" height="10.98" fill="#56a0ce"/>
<rect x="367.70" y="255.77" width="10.98" height="10.98" fill="#ccdff1"/>
<rect x="378.64" y="255.77" width="10.98" height="10.98" fill="#d2e3f3"/>
<rect x="389.57" y="255.77" width="10.98" height="10.98" fill="#deebf7"/>
<rect x="400.50" y="255.77" width="10.98" height="10.98" fill="#eaf3fb"/>
<rect x="411.43" y="255.77" width="10.98" height="10.98" fill="#78b5d9"/>
<rect x="422.36" y="255.77" width="10.98" height="10.98" fill="#deebf7"/>
<rect x="433.30" y="255.77" width="10.98" height="10.98" fill="#f1f7fd"/>
<rect x="444.23" y="255.77" width="10.98" height="10.98" fill="#b2d2e8"/>
<rect x="455.16" y="255.77" width="10.98" height="10.98" fill="#f1f7fd"/>
<rect x="466.09" y="255.77" width="21.91" height="10.98" fill="#d8e7f5"/>
<rect x="487.95" y="255.77" width="10.98" height="10.98" fill="#e4eff9"/>
<rect x="498.89" y="255.77" width="10.98" height="10.98" fill="#deebf7"/>
<rect x="509.82" y="255.77" width="10.98" height="10.98" fill="#bcd7ec"/>
<rect x="520.75" y="255.77" width="10.98" height="10.98" fill="#6baed6"/>
<rect x="531.68" y="255.77" width="10.98" height="10.98" fill="#b2d2e8"/>
<rect x="542.61" y="255.77" width="10.98" height="10.98" fill="#e4eff9"/>
<rect x="553.55" y="255.77" width="10.98" height="10.98" fill="#d8e7f5"/>
<rect x="564.48" y="255.77" width="21.91" height="10.98" fill="#d2e3f3"/>
<rect x="586.34" y="255.77" width="10.98" height="10.98" fill="#56a0ce"/>
<rect x="597.27" y="255.77" width="10.98" height="10.98" fill="#deebf7"/>
<rect x="608.20" y="255.77" width="10.98" height="10.98" fill="#b2d2e8"/>
<rect x="619.14" y="255.77" width="10.98" height="10.98" fill="#f3f9fe"/>
<rect x="630.07" y="255.77" width="10.98" height="10.98" fill="#91c3de"/>
<rect x="378.64" y="266.70" width="10.98" height="10.98" fill="#f3f9fe"/>
<rect x="389.57" y="266.70" width="10.98" height="10.98" fill="#e4eff9"/>
<rect x="400.50" y="266.70" width="10.98" height="10.98" fill="#deebf7"/>
<rect x="411.43" y="266.70" width="10.98" height="10.98" fill="#4c99ca"/>
<rect x="422.36" y="266.70" width="10.98" height="10.98" fill="#f3f9fe"/>
<rect x="433.30" y="266.70" width="10.98" height="10.98" fill="#deebf7"/>
<rect x="444.23" y="266.70" width="10.98" height="10.98" fill="#61a7d2"/>
<rect x="455.16" y="266.70" width="10.98" height="10.98" fill="#deebf7"/>
<rect x="466.09" y="266.70" width="10.98" height="10.98" fill="#9ecae1"/>
<rect x="477.02" y="266.70" width="10.98" height="10.98" fill="#91c3de"/>
<rect x="487.95" y="266.70" width="10.98" height="10.98" fill="#ccdff1"/>
<rect x="498.89" y="266.70" width="10.98" height="10.98" fill="#9ecae1"/>
<rect x="509.82" y="266.70" width="10.98" height="10.98" fill="#91c3de"/>
<rect x="520.75" y="266.70" width="10.98" height="10.98" fill="#4292c6"/>
<rect x="531.68" y="266.70" width="10.98" height="10.98" fill="#ccdff1"/>
<rect x="542.61" y="266.70" width="10.98" height="10.98" fill="#a8cee4"/>
<rect x="553.55" y="266.70" width="10.98" height="10.98" fill="#9ecae1"/>
<rect x="564.48" y="266.70" width="10.98" height="10.98" fill="#deebf7"/>
<rect x="575.41" y="266.70" width="10.98" height="10.98" fill="#b2d2e8"/>
<rect x="586.34" y="266.70" width="10.98" height="10.98" fill="#ccdff1"/>
<rect x="597.27" y="266.70" width="10.98" height="10.98" fill="#deebf7"/>
<rect x="608.20" y="266.70" width="10.98" height="10.98" fill="#f1f7fd"/>
<rect x="619.14" y="266.70" width="10.98" height="10.98" fill="#91c3de"/>
<rect x="630.07" y="266.70" width="10.98" height="10.98" fill="#e4eff9"/>
<rect x="389.57" y="277.64" width="10.98" height="10.98" fill="#e4eff9"/>
<rect x="400.50" y="277.64" width="10.98" height="10.98" fill="#d2e3f3"/>
<rect x="411.43" y="277.64" width="10.98" height="10.98" fill="#3282be"/>
<rect x="422.36" y="277.64" width="10.98" height="10.98" fill="#f1f7fd"/>
<rect x="433.30" y="277.64" width="10.98" height="10.98" fill="#ccdff1"/>
<rect x="444.23" y="277.64" width="10.98" height="10.98" fill="#4c99ca"/>
<rect x="455.16" y="277.64" width="10.98" height="10.98" fill="#d8e7f5"/>
<rect x="466.09" y="277.64" width="10.98" height="10.98" fill="#78b5d9"/>
<rect x="477.02" y="277.64" width="10.98" height="10.98" fill="#91c3de"/>
<rect x="487.95" y="277.64" width="10.98" height="10.98" fill="#9ecae1"/>
<rect x="498.89" y="277.64" width="10.98" height="10.98" fill="#91c3de"/>
<rect x="509.82" y="277.64" width="10.98" height="10.98" fill="#61a7d2"/>
<rect x="520.75" y="277.64" width="10.98" height="10.98" fill="#2979b9"/>
<rect x="531.68" y="277.64" width="10.98" height="10.98" fill="#f3f9fe"/>
<rect x="542.61" y="277.64" width="21.91" height="10.98" fill="#91c3de"/>
<rect x="564.48" y="277.64" width="10.98" height="10.98" fill="#e4eff9"/>
<rect x="575.41" y="277.64" width="10.98" height="10.98" fill="#a8cee4"/>
<rect x="586.34" y="277.64" width="10.98" height="10.98" fill="#ccdff1"/>
<rect x="597.27" y="277.64" width="21.91" height="10.98" fill="#e4eff9"/>
<rect x="619.14" y="277.64" width="10.98" height="10.98" fill="#bcd7ec"/>
<rect x="630.07" y="277.64" width="10.98" height="10.98" fill="#deebf7"/>
<rect x="400.50" y="288.57" width="10.98" height="10.98" fill="#d2e3f3"/>
<rect x="411.43" y="288.57" width="10.98" height="10.98" fill="#2979b9"/>
<rect x="422.36" y="288.57" width="10.98" height="10.98" fill="#f1f7fd"/>
<rect x="433.30" y="288.57" width="10.98" height="10.98" fill="#ccdff1"/>
<rect x="444.23" y="288.57" width="10.98" height="10.98" fill="#4c99ca"/>
<rect x="455.16" y="288.57" width="10.98" height="10.98" fill="#d8e7f5"/>
<rect x="466.09" y="288.57" width="21.91" height="10.98" fill="#9ecae1"/>
<rect x="487.95" y="288.57" width="10.98" height="10.98" fill="#b2d2e8"/>
<rect x="498.89" y="288.57" width="10.98" height="10.98" fill="#a8cee4"/>
<rect x="509.82" y="288.57" width="10.98" height="10.98" fill="#6baed6"/>
<rect x="520.75" y="288.57" width="10.98" height="10.98" fill="#2171b5"/>
<rect x="531.68" y="288.57" width="10.98" height="10.98" fill="#deebf7"/>
<rect x="542.61" y="288.57" width="10.98" height="10.98" fill="#b2d2e8"/>
<rect x="553.55" y="288.57" width="10.98" height="10.98" fill="#9ecae1"/>
<rect x="564.48" y="288.57" width="10.98" height="10.98" fill="#eaf3fb"/>
<rect x="575.41" y="288.57" width="10.98" height="10.98" fill="#91c3de"/>
<rect x="586.34" y="288.57" width="10.98" height="10.98" fill="#c6dbef"/>
<rect x="597.27" y="288.57" width="21.91" height="10.98" fill="#e4eff9"/>
<rect x="619.14" y="288.57" width="10.98" height="10.98" fill="#bcd7ec"/>
<rect x="630.07" y="288.57" width="10.98" height="10.98" fill="#d8e7f5"/>
<rect x="411.43" y="299.50" width="21.91" height="10.98" fill="#f1f7fd"/>
<rect x="433.30" y="299.50" width="10.98" height="10.98" fill="#eaf3fb"/>
<rect x="444.23" y="299.50" width="10.98" height="10.98" fill="#e4eff9"/>
<rect x="455.16" y="299.50" width="10.98" height="10.98" fill="#eaf3fb"/>
<rect x="466.09" y="299.50" width="10.98" height="10.98" fill="#d8e7f5"/>
<rect x="477.02" y="299.50" width="10.98" height="10.98" fill="#eaf3fb"/>
<rect x="487.95" y="299.50" width="10.98" height="10.98" fill="#e4eff9"/>
<rect x="498.89" y="299.50" width="10.98" height="10.98" fill="#c6dbef"/>
<rect x="509.82" y="299.50" width="21.91" height="10.98" fill="#f1f7fd"/>
<rect x="531.68" y="299.50" width="10.98" height="10.98" fill="#eaf3fb"/>
<rect x="542.61" y="299.50" width="10.98" height="10.98" fill="#bcd7ec"/>
<rect x="553.55" y="299.50" width="10.98" height="10.98" fill="#e4eff9"/>
<rect x="564.48" y="299.50" width="32.85" height="10.98" fill="#eaf3fb"/>
<rect x="597.27" y="299.50" width="10.98" height="10.98" fill="#ccdff1"/>
<rect x="608.20" y="299.50" width="10.98" height="10.98" fill="#b2d2e8"/>
<rect x="619.14" y="299.50" width="10.98" height="10.98" fill="#eaf3fb"/>
<rect x="630.07" y="299.50" width="10.98" height="10.98" fill="#d2e3f3"/>
<rect x="422.36" y="310.43" width="10.98" height="10.98" fill="#e4eff9"/>
<rect x="433.30" y="310.43" width="10.98" height="10.98" fill="#91c3de"/>
<rect x="444.23" y="310.43" width="10.98" height="10.98" fill="#eaf3fb"/>
<rect x="455.16" y="310.43" width="10.98" height="10.98" fill="#c6dbef"/>
<rect x="466.09" y="310.43" width="10.98" height="10.98" fill="#eaf3fb"/>
<rect x="477.02" y="310.43" width="10.98" height="10.98" fill="#84bcdc"/>
<rect x="487.95" y="310.43" width="10.98" height="10.98" fill="#eaf3fb"/>
<rect x="498.89" y="310.43" width="32.85" height="10.98" fill="#f1f7fd"/>
<rect x="531.68" y="310.43" width="10.98" height="10.98" fill="#ccdff1"/>
<rect x="542.61" y="310.43" width="10.98" height="10.98" fill="#eaf3fb"/>
<rect x="553.55" y="310.43" width="10.98" height="10.98" fill="#f3f9fe"/>
<rect x="564.48" y="310.43" width="10.98" height="10.98" fill="#78b5d9"/>
<rect x="575.41" y="310.43" width="10.98" height="10.98" fill="#61a7d2"/>
<rect x="586.34" y="310.43" width="10.98" height="10.98" fill="#eaf3fb"/>
<rect x="597.27" y="310.43" width="21.91" height="10.98" fill="#f1f7fd"/>
<rect x="619.14" y="310.43" width="10.98" height="10.98" fill="#a8cee4"/>
<rect x="630.07" y="310.43" width="10.98" height="10.98" fill="#f1f7fd"/>
<rect x="433.30" y="321.36" width="10.98" height="10.98" fill="#eaf3fb"/>
<rect x="444.23" y="321.36" width="10.98" height="10.98" fill="#f1f7fd"/>
<rect x="455.16" y="321.36" width="10.98" height="10.98" fill="#deebf7"/>
<rect x="466.09" y="321.36" width="10.98" height="10.98" fill="#c6dbef"/>
<rect x="477.02" y="321.36" width="10.98" height="10.98" fill="#e4eff9"/>
<rect x="487.95" y="321.36" width="10.98" height="10.98" fill="#ccdff1"/>
<rect x="498.89" y="321.36" width="10.98" height="10.98" fill="#c6dbef"/>
<rect x="509.82" y="321.36" width="10.98" height="10.98" fill="#e4eff9"/>
<rect x="520.75" y="321.36" width="10.98" height="10.98" fill="#ccdff1"/>
<rect x="531.68" y="321.36" width="10.98" height="10.98" fill="#c6dbef"/>
<rect x="542.61" y="321.36" width="10.98" height="10.98" fill="#9ecae1"/>
<rect x="553.55" y="321.36" width="10.98" height="10.98" fill="#eaf3fb"/>
<rect x="564.48" y="321.36" width="10.98" height="10.98" fill="#f3f9fe"/>
<rect x="575.41" y="321.36" width="21.91" height="10.98" fill="#e4eff9"/>
<rect x="597.27" y="321.36" width="10.98" height="10.98" fill="#eaf3fb"/>
<rect x="608.20" y="321.36" width="10.98" height="10.98" fill="#e4eff9"/>
<rect x="619.14" y="321.36" width="10.98" height="10.98" fill="#c6dbef"/>
<rect x="630.07" y="321.36" width="10.98" height="10.98" fill="#f3f9fe"/>
<rect x="444.23" y="332.30" width="10.98" height="10.98" fill="#a8cee4"/>
<rect x="455.16" y="332.30" width="10.98" height="10.98" fill="#f1f7fd"/>
<rect x="466.09" y="332.30" width="10.98" height="10.98" fill="#f3f9fe"/>
<rect x="477.02" y="332.30" width="10.98" height="10.98" fill="#eaf3fb"/>
<rect x="487.95" y="332.30" width="10.98" height="10.98" fill="#f1f7fd"/>
<rect x="498.89" y="332.30" width="10.98" height="10.98" fill="#e4eff9"/>
<rect x="509.82" y="332.30" width="10.98" height="10.98" fill="#d2e3f3"/>
<rect x="520.75" y="332.30" width="10.98" height="10.98" fill="#56a0ce"/>
<rect x="531.68" y="332.30" width="10.98" height="10.98" fill="#deebf7"/>
<rect x="542.61" y="332.30" width="21.91" height="10.98" fill="#d2e3f3"/>
<rect x="564.48" y="332.30" width="10.98" height="10.98" fill="#d8e7f5"/>
<rect x="575.41" y="332.30" width="21.91" height="10.98" fill="#eaf3fb"/>
<rect x="597.27" y="332.30" width="10.98" height="10.98" fill="#f1f7fd"/>
<rect x="608.20" y="332.30" width="10.98" height="10.98" fill="#deebf7"/>
<rect x="619.14" y="332.30" width="10.98" height="10.98" fill="#b2d2e8"/>
<rect x="630.07" y="332.30" width="10.98" height="10.98" fill="#f1f7fd"/>
<rect x="455.16" y="343.23" width="10.98" height="10.98" fill="#d2e3f3"/>
<rect x="466.09" y="343.23" width="10.98" height="10.98" fill="#f1f7fd"/>
<rect x="477.02" y="343.23" width="10.98" height="10.98" fill="#9ecae1"/>
<rect x="487.95" y="343.23" width="43.78" height="10.98" fill="#f1f7fd"/>
<rect x="531.68" y="343.23" width="10.98" height="10.98" fill="#e4eff9"/>
<rect x="542.61" y="343.23" width="21.91" height="10.98" fill="#f1f7fd"/>
<rect x="564.48" y="343.23" width="10.98" height="10.98" fill="#a8cee4"/>
<rect x="575.41" y="343.23" width="10.98" height="10.98" fill="#91c3de"/>
<rect x="586.34" y="343.23" width="10.98" height="10.98" fill="#d2e3f3"/>
<rect x="597.27" y="343.23" width="10.98" height="10.98" fill="#e4eff9"/>
<rect x="608.20" y="343.23" width="10.98" height="10.98" fill="#deebf7"/>
<rect x="619.14" y="343.23" width="10.98" height="10.98" fill="#ccdff1"/>
<rect x="630.07" y="343.23" width="10.98" height="10.98" fill="#d8e7f5"/>
<rect x="466.09" y="354.16" width="21.91" height="10.98" fill="#e4eff9"/>
<rect x="487.95" y="354.16" width="10.98" height="10.98" fill="#f1f7fd"/>
<rect x="498.89" y="354.16" width="10.98" height="10.98" fill="#d8e7f5"/>
<rect x="509.82" y="354.16" width="10.98" height="10.98" fill="#e4eff9"/>
<rect x="520.75" y="354.16" width="10.98" height="10.98" fill="#a8cee4"/>
<rect x="531.68" y="354.16" width="10.98" height="10.98" fill="#deebf7"/>
<rect x="542.61" y="354.16" width="10.98" height="10.98" fill="#c6dbef"/>
<rect x="553.55" y="354.16" width="10.98" height="10.98" fill="#e4eff9"/>
<rect x="564.48" y="354.16" width="10.98" height="10.98" fill="#78b5d9"/>
<rect x="575.41" y="354.16" width="21.91" height="10.98" fill="#f1f7fd"/>
<rect x="597.27" y="354.16" width="10.98" height="10.98" fill="#e4eff9"/>
<rect x="608.20" y="354.16" width="10.98" height="10.98" fill="#c6dbef"/>
<rect x="619.14" y="354.16" width="10.98" height="10.98" fill="#d8e7f5"/>
<rect x="630.07" y="354.16" width="10.98" height="10.98" fill="#e4eff9"/>
<rect x="477.02" y="365.09" width="10.98" height="10.98" fill="#deebf7"/>
<rect x="487.95" y="365.09" width="10.98" height="10.98" fill="#eaf3fb"/>
<rect x="498.89" y="365.09" width="10.98" height="10.98" fill="#f1f7fd"/>
<rect x="509.82" y="365.09" width="10.98" height="10.98" fill="#e4eff9"/>
<rect x="520.75" y="365.09" width="10.98" height="10.98" fill="#f1f7fd"/>
<rect x="531.68" y="365.09" width="10.98" height="10.98" fill="#e4eff9"/>
<rect x="542.61" y="365.09" width="10.98" height="10.98" fill="#f3f9fe"/>
<rect x="553.55" y="365.09" width="10.98" height="10.98" fill="#eaf3fb"/>
<rect x="564.48" y="365.09" width="10.98" height="10.98" fill="#78b5d9"/>
<rect x="575.41" y="365.09" width="10.98" height="10.98" fill="#eaf3fb"/>
<rect x="586.34" y="365.09" width="10.98" height="10.98" fill="#91c3de"/>
<rect x="597.27" y="365.09" width="10.98" height="10.98" fill="#c6dbef"/>
<rect x="608.20" y="365.09" width="10.98" height="10.98" fill="#84bcdc"/>
<rect x="619.14" y="365.09" width="10.98" height="10.98" fill="#f1f7fd"/>
<rect x="630.07" y="365.09" width="10.98" height="10.98" fill="#9ecae1"/>
<rect x="487.95" y="376.02" width="10.98" height="10.98" fill="#d8e7f5"/>
<rect x="498.89" y="376.02" width="10.98" height="10.98" fill="#eaf3fb"/>
<rect x="509.82" y="376.02" width="10.98" height="10.98" fill="#bcd7ec"/>
<rect x="520.75" y="376.02" width="10.98" height="10.98" fill="#6baed6"/>
<rect x="531.68" y="376.02" width="10.98" height="10.98" fill="#f3f9fe"/>
<rect x="542.61" y="376.02" width="10.98" height="10.98" fill="#eaf3fb"/>
<rect x="553.55" y="376.02" width="10.98" height="10.98" fill="#bcd7ec"/>
<rect x="564.48" y="376.02" width="10.98" height="10.98" fill="#9ecae1"/>
<rect x="575.41" y="376.02" width="10.98" height="10.98" fill="#eaf3fb"/>
<rect x="586.34" y="376.02" width="10.98" height="10.98" fill="#ccdff1"/>
<rect x="597.27" y="376.02" width="10.98" height="10.98" fill="#f1f7fd"/>
<rect x="608.20" y="376.02" width="10.98" height="10.98" fill="#78b5d9"/>
<rect x="619.14" y="376.02" width="10.98" height="10.98" fill="#ccdff1"/>
<rect x="630.07" y="376.02" width="10.98" height="10.98" fill="#d2e3f3"/>
<rect x="498.89" y="386.95" width="21.91" height="10.98" fill="#f1f7fd"/>
<rect x="520.75" y="386.95" width="10.98" height="10.98" fill="#eaf3fb"/>
<rect x="531.68" y="386.95" width="10.98" height="10.98" fill="#e4eff9"/>
<rect x="542.61" y="386.95" width="10.98" height="10.98" fill="#eaf3fb"/>
<rect x="553.55" y="386.95" width="10.98" height="10.98" fill="#f3f9fe"/>
<rect x="564.48" y="386.95" width="10.98" height="10.98" fill="#6baed6"/>
<rect x="575.41" y="386.95" width="10.98" height="10.98" fill="#eaf3fb"/>
<rect x="586.34" y="386.95" width="10.98" height="10.98" fill="#b2d2e8"/>
<rect x="597.27" y="386.95" width="10.98" height="10.98" fill="#ccdff1"/>
<rect x="608.20" y="386.95" width="10.98" height="10.98" fill="#9ecae1"/>
<rect x="619.14" y="386.95" width="10.98" height="10.98" fill="#eaf3fb"/>
<rect x="630.07" y="386.95" width="10.98" height="10.98" fill="#a8cee4"/>
<rect x="509.82" y="397.89" width="10.98" height="10.98" fill="#f1f7fd"/>
<rect x="520.75" y="397.89" width="10.98" height="10.98" fill="#f3f9fe"/>
<rect x="531.68" y="397.89" width="10.98" height="10.98" fill="#f1f7fd"/>
<rect x="542.61" y="397.89" width="21.91" height="10.98" fill="#eaf3fb"/>
<rect x="564.48" y="397.89" width="10.98" height="10.98" fill="#c6dbef"/>
<rect x="575.41" y="397.89" width="10.98" height="10.98" fill="#f1f7fd"/>
<rect x="586.34" y="397.89" width="10.98" height="10.98" fill="#56a0ce"/>
<rect x="597.27" y="397.89" width="10.98" height="10.98" fill="#b2d2e8"/>
<rect x="608.20" y="397.89" width="10.98" height="10.98" fill="#6baed6"/>
<rect x="619.14" y="397.89" width="10.98" height="10.98" fill="#f3f9fe"/>
<rect x="630.07" y="397.89" width="10.98" height="10.98" fill="#91c3de"/>
<rect x="520.75" y="408.82" width="10.98" height="10.98" fill="#eaf3fb"/>
<rect x="531.68" y="408.82" width="10.98" height="10.98" fill="#d2e3f3"/>
<rect x="542.61" y="408.82" width="10.98" height="10.98" fill="#e4eff9"/>
<rect x="553.55" y="408.82" width="10.98" height="10.98" fill="#f3f9fe"/>
<rect x="564.48" y="408.82" width="10.98" height="10.98" fill="#61a7d2"/>
<rect x="575.41" y="408.82" width="10.98" height="10.98" fill="#bcd7ec"/>
<rect x="586.34" y="408.82" width="10.98" height="10.98" fill="#d8e7f5"/>
<rect x="597.27" y="408.82" width="10.98" height="10.98" fill="#deebf7"/>
<rect x="608.20" y="408.82" width="10.98" height="10.98" fill="#d8e7f5"/>
<rect x="619.14" y="408.82" width="10.98" height="10.98" fill="#d2e3f3"/>
<rect x="630.07" y="408.82" width="10.98" height="10.98" fill="#d8e7f5"/>
<rect x="531.68" y="419.75" width="10.98" height="10.98" fill="#d2e3f3"/>
<rect x="542.61" y="419.75" width="21.91" height="10.98" fill="#f3f9fe"/>
<rect x="564.48" y="419.75" width="10.98" height="10.98" fill="#9ecae1"/>
<rect x="575.41" y="419.75" width="10.98" height="10.98" fill="#3a8ac2"/>
<rect x="586.34" y="419.75" width="21.91" height="10.98" fill="#f1f7fd"/>
<rect x="608.20" y="419.75" width="10.98" height="10.98" fill="#f3f9fe"/>
<rect x="619.14" y="419.75" width="10.98" height="10.98" fill="#9ecae1"/>
<rect x="630.07" y="419.75" width="10.98" height="10.98" fill="#f3f9fe"/>
<rect x="542.61" y="430.68" width="10.98" height="10.98" fill="#e4eff9"/>
<rect x="553.55" y="430.68" width="10.98" height="10.98" fill="#f3f9fe"/>
<rect x="564.48" y="430.68" width="10.98" height="10.98" fill="#84bcdc"/>
<rect x="575.41" y="430.68" width="10.98" height="10.98" fill="#eaf3fb"/>
<rect x="586.34" y="430.68" width="10.98" height="10.98" fill="#9ecae1"/>
<rect x="597.27" y="430.68" width="10.98" height="10.98" fill="#a8cee4"/>
<rect x="608.20" y="430.68" width="10.98" height="10.98" fill="#61a7d2"/>
<rect x="619.14" y="430.68" width="10.98" height="10.98" fill="#e4eff9"/>
<rect x="630.07" y="430.68" width="10.98" height="10.98" fill="#61a7d2"/>
<rect x="553.55" y="441.61" width="10.98" height="10.98" fill="#deebf7"/>
<rect x="564.48" y="441.61" width="10.98" height="10.98" fill="#91c3de"/>
<rect x="575.41" y="441.61" width="10.98" height="10.98" fill="#deebf7"/>
<rect x="586.34" y="441.61" width="10.98" height="10.98" fill="#4292c6"/>
<rect x="597.27" y="441.61" width="10.98" height="10.98" fill="#84bcdc"/>
<rect x="608.20" y="441.61" width="10.98" height="10.98" fill="#4292c6"/>
<rect x="619.14" y="441.61" width="10.98" height="10.98" fill="#deebf7"/>
<rect x="630.07" y="441.61" width="10.98" height="10.98" fill="#4c99ca"/>
<rect x="564.48" y="452.55" width="10.98" height="10.98" fill="#d2e3f3"/>
<rect x="575.41" y="452.55" width="10.98" height="10.98" fill="#ccdff1"/>
<rect x="586.34" y="452.55" width="10.98" height="10.98" fill="#d2e3f3"/>
<rect x="597.27" y="452.55" width="10.98" height="10.98" fill="#e4eff9"/>
<rect x="608.20" y="452.55" width="10.98" height="10.98" fill="#ccdff1"/>
<rect x="619.14" y="452.55" width="10.98" height="10.98" fill="#d2e3f3"/>
<rect x="630.07" y="452.55" width="10.98" height="10.98" fill="#d8e7f5"/>
<rect x="575.41" y="463.48" width="10.98" height="10.98" fill="#d2e3f3"/>
<rect x="586.34" y="463.48" width="10.98" height="10.98" fill="#4c99ca"/>
<rect x="597.27" y="463.48" width="10.98" height="10.98" fill="#9ecae1"/>
<rect x="608.20" y="463.48" width="10.98" height="10.98" fill="#91c3de"/>
<rect x="619.14" y="463.48" width="10.98" height="10.98" fill="#3282be"/>
<rect x="630.07" y="463.48" width="10.98" height="10.98" fill="#56a0ce"/>
<rect x="586.34" y="474.41" width="10.98" height="10.98" fill="#f1f7fd"/>
<rect x="597.27" y="474.41" width="10.98" height="10.98" fill="#eaf3fb"/>
<rect x="608.20" y="474.41" width="10.98" height="10.98" fill="#f1f7fd"/>
<rect x="619.14" y="474.41" width="10.98" height="10.98" fill="#91c3de"/>
<rect x="630.07" y="474.41" width="10.98" height="10.98" fill="#e4eff9"/>
<rect x="597.27" y="485.34" width="21.91" height="10.98" fill="#9ecae1"/>
<rect x="619.14" y="485.34" width="10.98" height="10.98" fill="#deebf7"/>
<rect x="630.07" y="485.34" width="10.98" height="10.98" fill="#bcd7ec"/>
<rect x="608.20" y="496.27" width="10.98" height="10.98" fill="#ccdff1"/>
<rect x="619.14" y="496.27" width="10.98" height="10.98" fill="#c6dbef"/>
<rect x="630.07" y="496.27" width="10.98" height="10.98" fill="#eaf3fb"/>
<rect x="619.14" y="507.20" width="10.98" height="10.98" fill="#f1f7fd"/>
<rect x="630.07" y="507.20" width="10.98" height="10.98" fill="#f3f9fe"/>
<rect x="630.07" y="518.14" width="10.98" height="10.98" fill="#e4eff9"/>
</g>
<g stroke="#000" stroke-width="1" fill="none">
<path d="M165.50 60.00v6.60M165.50 541.00v-6.70M160.00 65.50h6.60M641.00 65.50h-6.40M176.50 60.00v6.60M176.50 541.00v-6.70M160.00 76.50h6.60M641.00 76.50h-6.40M187.50 60.00v6.60M187.50 541.00v-6.70M160.00 87.50h6.60M641.00 87.50h-6.40M198.50 60.00v6.60M198.50 541.00v-6.70M160.00 98.50h6.60M641.00 98.50h-6.40M209.50 60.00v6.60M209.50 541.00v-6.70M160.00 109.50h6.60M641.00 109.50h-6.40M220.50 60.00v6.60M220.50 541.00v-6.70M160.00 120.50h6.60M641.00 120.50h-6.40M231.50 60.00v6.60M231.50 541.00v-6.70M160.00 131.50h6.60M641.00 131.50h-6.40M242.50 60.00v6.60M242.50 541.00v-6.70M160.00 142.50h6.60M641.00 142.50h-6.40M253.50 60.00v6.60M253.50 541.00v-6.70M160.00 153.50h6.60M641.00 153.50h-6.40M264.50 60.00v6.60M264.50 541.00v-6.70M160.00 164.50h6.60M641.00 164.50h-6.40M275.50 60.00v6.60M275.50 541.00v-6.70M160.00 175.50h6.60M641.00 175.50h-6.40M285.50 60.00v6.60M285.50 541.00v-6.70M160.00 185.50h6.60M641.00 185.50h-6.40M296.50 60.00v6.60M296.50 541.00v-6.70M160.00 196.50h6.60M641.00 196.50h-6.40M307.50 60.00v6.60M307.50 541.00v-6.70M160.00 207.50h6.60M641.00 207.50h-6.40M318.50 60.00v6.60M318.50 541.00v-6.70M160.00 218.50h6.60M641.00 218.50h-6.40M329.50 60.00v6.60M329.50 541.00v-6.70M160.00 229.50h6.60M641.00 229.50h-6.40M340.50 60.00v6.60M340.50 541.00v-6.70M160.00 240.50h6.60M641.00 240.50h-6.40M351.50 60.00v6.60M351.50 541.00v-6.70M160.00 251.50h6.60M641.00 251.50h-6.40M362.50 60.00v6.60M362.50 541.00v-6.70M160.00 262.50h6.60M641.00 262.50h-6.40M373.50 60.00v6.60M373.50 541.00v-6.70M160.00 273.50h6.60M641.00 273.50h-6.40M384.50 60.00v6.60M384.50 541.00v-6.70M160.00 284.50h6.60M641.00 284.50h-6.40M395.50 60.00v6.60M395.50 541.00v-6.70M160.00 295.50h6.60M641.00 295.50h-6.40M405.50 60.00v6.60M405.50 541.00v-6.70M160.00 305.50h6.60M641.00 305.50h-6.40M416.50 60.00v6.60M416.50 541.00v-6.70M160.00 316.50h6.60M641.00 316.50h-6.40M427.50 60.00v6.60M427.50 541.00v-6.70M160.00 327.50h6.60M641.00 327.50h-6.40M438.50 60.00v6.60M438.50 541.00v-6.70M160.00 338.50h6.60M641.00 338.50h-6.40M449.50 60.00v6.60M449.50 541.00v-6.70M160.00 349.50h6.60M641.00 349.50h-6.40M460.50 60.00v6.60M460.50 541.00v-6.70M160.00 360.50h6.60M641.00 360.50h-6.40M471.50 60.00v6.60M471.50 541.00v-6.70M160.00 371.50h6.60M641.00 371.50h-6.40M482.50 60.00v6.60M482.50 541.00v-6.70M160.00 382.50h6.60M641.00 382.50h-6.40M493.50 60.00v6.60M493.50 541.00v-6.70M160.00 393.50h6.60M641.00 393.50h-6.40M504.50 60.00v6.60M504.50 541.00v-6.70M160.00 404.50h6.60M641.00 404.50h-6.40M515.50 60.00v6.60M515.50 541.00v-6.70M160.00 415.50h6.60M641.00 415.50h-6.40M525.50 60.00v6.60M525.50 541.00v-6.70M160.00 425.50h6.60M641.00 425.50h-6.40M536.50 60.00v6.60M536.50 541.00v-6.70M160.00 436.50h6.60M641.00 436.50h-6.40M547.50 60.00v6.60M547.50 541.00v-6.70M160.00 447.50h6.60M641.00 447.50h-6.40M558.50 60.00v6.60M558.50 541.00v-6.70M160.00 458.50h6.60M641.00 458.50h-6.40M569.50 60.00v6.60M569.50 541.00v-6.70M160.00 469.50h6.60M641.00 469.50h-6.40M580.50 60.00v6.60M580.50 541.00v-6.70M160.00 480.50h6.60M641.00 480.50h-6.40M591.50 60.00v6.60M591.50 541.00v-6.70M160.00 491.50h6.60M641.00 491.50h-6.40M602.50 60.00v6.60M602.50 541.00v-6.70M160.00 502.50h6.60M641.00 502.50h-6.40M613.50 60.00v6.60M613.50 541.00v-6.70M160.00 513.50h6.60M641.00 513.50h-6.40M624.50 60.00v6.60M624.50 541.00v-6.70M160.00 524.50h6.60M641.00 524.50h-6.40M635.50 60.00v6.60M635.50 541.00v-6.70M160.00 535.50h6.60M641.00 535.50h-6.40"/>
</g>
<rect x="160.5" y="60.5" width="480" height="480" fill="none" stroke="#000" stroke-width="1.39"/>
<text x="166.25" y="54.2" text-anchor="middle">C1'</text>
<text x="156.1" y="71.85" text-anchor="end">C1'</text>
<text x="220.80" y="54.2" text-anchor="middle">C4'</text>
<text x="156.1" y="126.40" text-anchor="end">C4'</text>
<text x="275.35" y="54.2" text-anchor="middle">N1</text>
<text x="156.1" y="180.95" text-anchor="end">N1</text>
<text x="329.89" y="54.2" text-anchor="middle">O2'</text>
<text x="156.1" y="235.49" text-anchor="end">O2'</text>
<text x="384.44" y="54.2" text-anchor="middle">OP2</text>
<text x="156.1" y="290.04" text-anchor="end">OP2</text>
<text x="438.98" y="54.2" text-anchor="middle">C3'</text>
<text x="156.1" y="344.58" text-anchor="end">C3'</text>
<text x="493.53" y="54.2" text-anchor="middle">C6</text>
<text x="156.1" y="399.13" text-anchor="end">C6</text>
<text x="548.07" y="54.2" text-anchor="middle">N7</text>
<text x="156.1" y="453.67" text-anchor="end">N7</text>
<text x="602.62" y="54.2" text-anchor="middle">O5'</text>
<text x="156.1" y="508.22" text-anchor="end">O5'</text>
<rect x="680.4" y="60.5" width="16" height="480" fill="url(#cb)" stroke="#000" stroke-width="1.39"/>
<text x="701.2" y="546.00" letter-spacing="-0.3">0.000</text>
<text x="701.2" y="482.42" letter-spacing="-0.3">0.004</text>
<text x="701.2" y="418.85" letter-spacing="-0.3">0.008</text>
<text x="701.2" y="355.27" letter-spacing="-0.3">0.012</text>
<text x="701.2" y="291.70" letter-spacing="-0.3">0.016</text>
<text x="701.2" y="228.12" letter-spacing="-0.3">0.020</text>
<text x="701.2" y="164.54" letter-spacing="-0.3">0.024</text>
<text x="701.2" y="100.97" letter-spacing="-0.3">0.028</text>
<path d="M696.40 540.50h-6.00M696.40 476.50h-6.00M696.40 413.50h-6.00M696.40 349.50h-6.00M696.40 286.50h-6.00M696.40 222.50h-6.00M696.40 159.50h-6.00M696.40 95.50h-6.00" stroke="#000" stroke-width="1" fill="none"/>
</svg>
</body></html>
